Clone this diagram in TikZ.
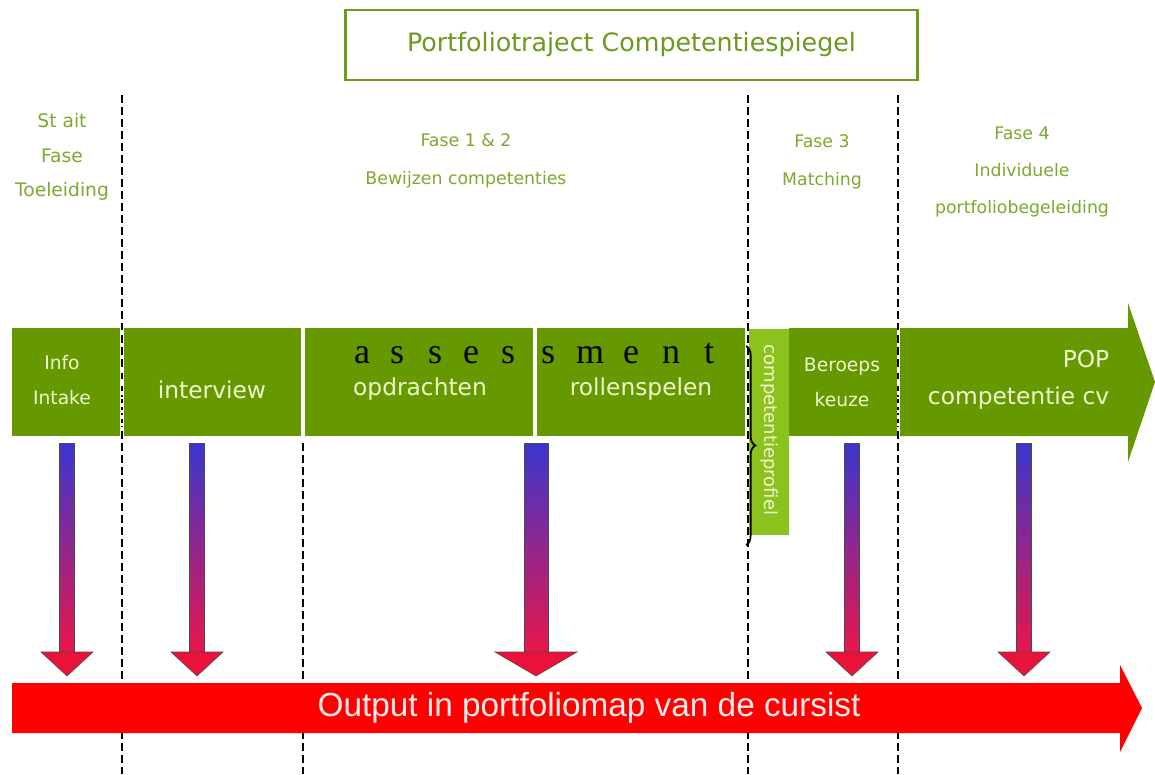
\documentclass[tikz,border=0pt]{standalone}
\usepackage{fontspec}
\setmainfont{DejaVu Sans}
\newfontfamily\arialfont{Liberation Sans}
\newfontfamily\timesfont{Liberation Serif}
\usetikzlibrary{decorations.pathreplacing}
\definecolor{bargreen}{HTML}{669900}
\definecolor{lightgreen}{HTML}{8CC21E}
\definecolor{phasegreen}{HTML}{7FA82E}
\definecolor{titlegreen}{HTML}{6B9A1E}
\definecolor{bartext}{HTML}{EEF8D0}
\definecolor{shaftblue}{HTML}{3A36CF}
\definecolor{shaftred}{HTML}{E8164A}
\definecolor{headred}{HTML}{E8123A}
\definecolor{outred}{HTML}{FF0000}
\tikzset{
  seg/.style={fill=bargreen, draw=none, inner sep=0pt, text=bartext, align=center},
  phase/.style={text=phasegreen, font=\fontsize{13}{28}\selectfont, align=center, inner sep=0pt},
  divider/.style={draw=black, line width=0.8pt, dash pattern=on 6pt off 3pt},
  shaftsty/.style={top color=shaftblue, bottom color=shaftred, draw=black!70, line width=0.4pt},
  headsty/.style={fill=headred, draw=black!70, line width=0.4pt},
  barfont/.style={font=\fontsize{17.5}{17.5}\selectfont},
  smallbar/.style={font=\fontsize{14}{26.5}\selectfont},
}
\begin{document}
\begin{tikzpicture}[x=0.75pt,y=-0.75pt]
\useasboundingbox[fill=white] (0,0) rectangle (1155,774);

% title
\node[draw=titlegreen, line width=1.6pt, minimum width=429pt, minimum height=52pt,
      text=titlegreen, font=\fontsize{19}{19}\selectfont] (title) at (631.5,45)
      {Portfoliotraject Competentiespiegel};

% phase labels
\node[phase, font=\fontsize{14}{26}\selectfont] (p0) at (62,157) {St ait\\Fase\\Toeleiding};
\node[phase] (p12) at (466,161) {Fase 1 \& 2\\Bewijzen competenties};
\node[phase] (p3) at (822,162) {Fase 3\\Matching};
\node[phase] (p4) at (1022,172) {Fase 4\\Individuele\\portfoliobegeleiding};

% green bar
\node[seg, minimum width=81pt, minimum height=81pt] (info) at (66,382) {};
\node[text=bartext, smallbar, align=center] (infotxt) at (62,380) {Info\\Intake};
\node[seg, minimum width=132.75pt, minimum height=81pt] (interview) at (212.5,382) {};
\node[text=bartext, barfont] (interviewtxt) at (212,390) {interview};
\node[seg, minimum width=171pt, minimum height=81pt] (opdr) at (419,382) {};
\node[seg, minimum width=156pt, minimum height=81pt] (rollen) at (641,382) {};
\node[text=bartext, barfont] (opdrtxt) at (420,389) {opdrachten};
\node[text=bartext, barfont] (rollentxt) at (641,389) {rollenspelen};
\node[seg, minimum width=81pt, minimum height=81pt] (beroeps) at (843,382) {};
\node[text=bartext, smallbar, align=center] (beroepstxt) at (842,382) {Beroeps\\keuze};
\fill[bargreen] (900,328) -- (1128,328) -- (1128,303) -- (1155,382) -- (1128,462) -- (1128,436) -- (900,436) -- cycle;
\node[text=bartext, anchor=east, font=\fontsize{17.5}{17.5}\selectfont] (pop) at (1114,359) {POP};
\node[text=bartext, anchor=east, font=\fontsize{17.5}{17.5}\selectfont] (cv) at (1114,398) {competentie cv};

% competentieprofiel
\node[fill=lightgreen, minimum width=30pt, minimum height=154.5pt, inner sep=0pt] (prof) at (769,432) {};
\node[rotate=-90, text=bartext, font=\fontsize{13.5}{13.5}\selectfont, anchor=west] (proftxt) at (769,340) {competentieprofiel};

% assessment letters
\foreach \ch/\xx in {a/362,s/397,s/435,e/471,s/508,s/548,m/590,e/631,n/671,t/709}
  \node[font=\timesfont\fontsize{27}{27}\selectfont, anchor=base, inner sep=0pt] at (\xx,363) {\ch};
\coordinate (bracetop) at (746,346);
\coordinate (bracebot) at (746,545);
\draw[line width=1.3pt, decorate, decoration={brace, amplitude=7pt}] (bracetop) -- (bracebot);

% dividers
\coordinate (d1t) at (122,95);  \coordinate (d1b) at (122,774);
\coordinate (d2t) at (303,443); \coordinate (d2b) at (303,774);
\coordinate (d3t) at (748,95);  \coordinate (d3b) at (748,774);
\coordinate (d4t) at (898,95);  \coordinate (d4b) at (898,774);
\draw[divider] (d1t) -- (d1b);
\draw[divider] (d2t) -- (d2b);
\draw[divider] (d3t) -- (d3b);
\draw[divider] (d4t) -- (d4b);
% white separator lines on the bar over dividers
\draw[white, line width=1pt, dash pattern=on 2pt off 8pt] (122,330) -- (122,436);
\draw[white, line width=1pt, dash pattern=on 2pt off 8pt] (898,330) -- (898,436);

% gradient arrows
\foreach \cx/\hw/\sw in {67/26/7.5, 197/26/7.5, 536/41/12, 852/26/7.5, 1024/26/7.5}{
  \shade[shaftsty] (\cx-\sw,443) rectangle (\cx+\sw,652);
  \draw[headsty] (\cx-\hw,652) -- (\cx+\hw,652) -- (\cx,676) -- cycle;
}

% output bar
\fill[outred] (12,683) -- (1120,683) -- (1120,665) -- (1142,708) -- (1120,752) -- (1120,733) -- (12,733) -- cycle;
\node[text=white!92!red, font=\arialfont\fontsize{25}{25}\selectfont] (output) at (589,708)
  {Output in portfoliomap van de cursist};
\end{tikzpicture}
\end{document}
